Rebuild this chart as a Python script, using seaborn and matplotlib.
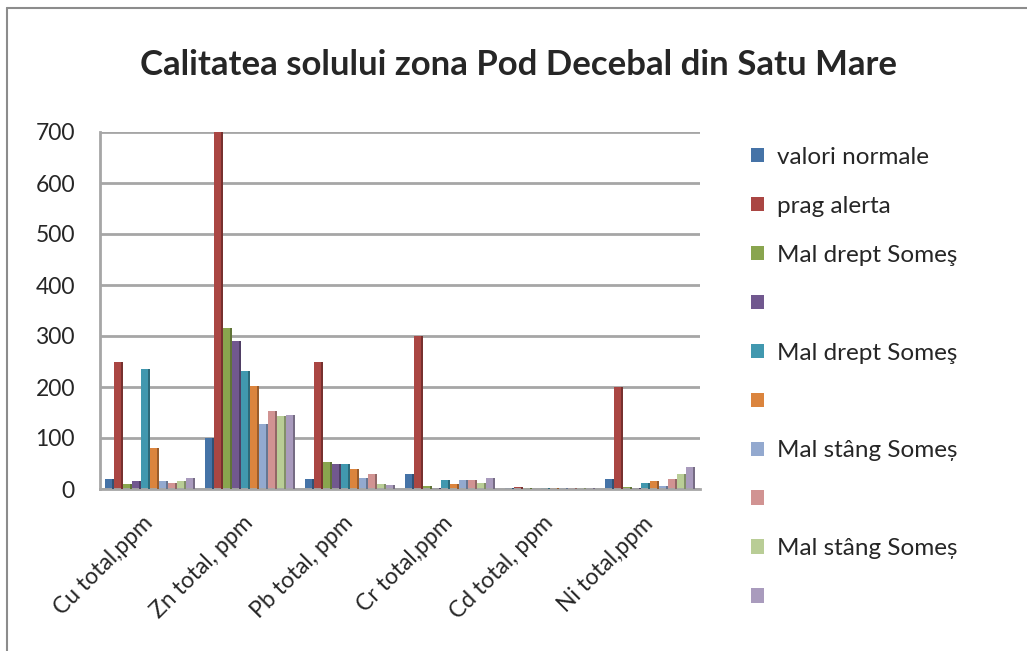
import pandas as pd
import numpy as np
import matplotlib.pyplot as plt
import matplotlib.transforms as mtransforms
import seaborn as sns
from matplotlib.patches import Patch
from matplotlib.lines import Line2D

sns.set_style("white")
plt.rcParams["font.family"] = ["Lato", "DejaVu Sans"]

# --- data ---
categories = ["Cu total,ppm", "Zn total, ppm", "Pb total, ppm",
              "Cr total,ppm", "Cd total, ppm", "Ni total,ppm"]
series_labels = ["valori normale", "prag alerta", "Mal drept Someş", "",
                 "Mal drept Someş", "", "Mal stâng Someș", "",
                 "Mal stâng Someș", ""]
s01 = [20, 100, 20, 30, 1, 20]
s02 = [250, 700, 250, 300, 3, 200]
s03 = [10, 315, 52, 5, 1, 3]
s04 = [15, 290, 50, 2, 0.5, 2]
s05 = [235, 232, 50, 17, 1, 11]
s06 = [80, 202, 40, 10, 1, 16]
s07 = [15, 128, 22, 17, 1, 5]
s08 = [12, 152, 30, 18, 1, 20]
s09 = [15, 143, 10, 12, 1, 29]
s10 = [22, 145, 7, 22, 1, 43]
series_values = [s01, s02, s03, s04, s05, s06, s07, s08, s09, s10]
colors = ["#4573A7", "#AA4643", "#89A54E", "#71588F", "#4198AF",
          "#DB843D", "#93A9CF", "#D19392", "#B9CD96", "#A99BBD"]

series_ids = [f"s{i:02d}" for i in range(1, 11)]
rows = []
for sid, vals in zip(series_ids, series_values):
    for cat, v in zip(categories, vals):
        rows.append({"element": cat, "serie": sid, "ppm": v})
df = pd.DataFrame(rows)

fig = plt.figure(figsize=(10.27, 6.51), dpi=100)
ax = fig.add_axes([100 / 1027, 1 - 489 / 651, 600 / 1027, 357 / 651])

sns.barplot(data=df, x="element", y="ppm", hue="serie", hue_order=series_ids,
            order=categories, palette=colors, width=0.9, saturation=1,
            edgecolor="none", ax=ax, legend=False)

# fake 3D depth: thin darker right side on each bar
for bar in list(ax.patches):
    h = bar.get_height()
    if h <= 0:
        continue
    w = bar.get_width()
    c = np.array(bar.get_facecolor()[:3]) * 0.7
    ax.add_patch(plt.Rectangle((bar.get_x() + w * 0.82, 0), w * 0.18, h,
                               facecolor=c, edgecolor="none", zorder=3))
    bar.set_zorder(2)

ax.set_ylim(0, 700)
ax.set_xlim(-0.5, 5.5)
ax.set_yticks(range(0, 701, 100))
ax.yaxis.grid(True, color="#A6A6A6", linewidth=2)
ax.set_axisbelow(True)
ax.set_xlabel("")
ax.set_ylabel("")
for s in ["top", "right"]:
    ax.spines[s].set_visible(False)
ax.spines["left"].set_color("#A6A6A6")
ax.spines["left"].set_linewidth(2)
ax.spines["bottom"].set_color("#A6A6A6")
ax.spines["bottom"].set_linewidth(2)
ax.tick_params(axis="y", labelsize=16.5, length=0, pad=18)
ax.tick_params(axis="x", labelsize=16.5, length=0, pad=14)
shift = mtransforms.ScaledTranslation(-8 / 100, -4 / 100, fig.dpi_scale_trans)
for lbl in ax.get_xticklabels():
    lbl.set_rotation(45)
    lbl.set_ha("right")
    lbl.set_va("top")
    lbl.set_rotation_mode("anchor")
    lbl.set_transform(lbl.get_transform() + shift)

fig.text(0.505, 1 - 65 / 651, "Calitatea solului zona Pod Decebal din Satu Mare",
         ha="center", va="center", fontsize=25, fontweight="bold")

handles = [Patch(facecolor=c, edgecolor="none") for c in colors]
fig.legend(handles, series_labels, loc="upper left",
           bbox_to_anchor=(741 / 1027, 1 - 137 / 651), frameon=False,
           fontsize=17.5, labelspacing=1.15, handlelength=0.55,
           handleheight=0.55, handletextpad=0.55, borderaxespad=0)

# chart border (left and top edges visible)
fig.add_artist(Line2D([7 / 1027, 7 / 1027], [0, 1 - 8 / 651],
                      color="#8C8C8C", linewidth=1.5))
fig.add_artist(Line2D([7 / 1027, 1], [1 - 8 / 651, 1 - 8 / 651],
                      color="#8C8C8C", linewidth=1.5))

plt.savefig("out.png", dpi=100)
plt.close()
